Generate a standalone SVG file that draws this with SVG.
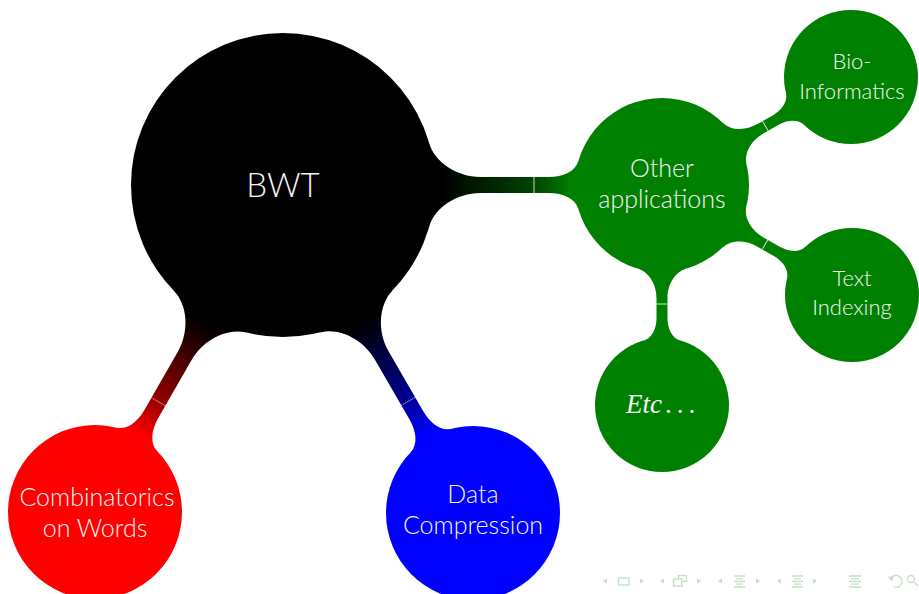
<svg xmlns="http://www.w3.org/2000/svg" width="919" height="594" viewBox="0 0 919 594">
<defs>
<style>
.lbl{font-family:Lato,"Open Sans","DejaVu Sans",sans-serif;font-weight:300;fill:#f6f6f6;text-anchor:middle}
.l0{font-size:33px}
.l1{font-size:25px}
.l2{font-size:22px}
.div{stroke:#ffffff;stroke-width:0.8;fill:none}
.dot{stroke-dasharray:1.2 1}
.nav{fill:#c2e2c2}
.navs{fill:none;stroke:#c2e2c2;stroke-width:1.3}
.g{fill:#008000}
</style>
<linearGradient id="gOther" gradientUnits="userSpaceOnUse" x1="158" y1="0" x2="288" y2="0">
<stop offset="0" stop-color="#000000"/><stop offset="0.715" stop-color="#004400"/><stop offset="1" stop-color="#008000"/>
</linearGradient>
<linearGradient id="gComb" gradientUnits="userSpaceOnUse" x1="158" y1="0" x2="288" y2="0">
<stop offset="0" stop-color="#000000"/><stop offset="0.715" stop-color="#990000"/><stop offset="1" stop-color="#ff0000"/>
</linearGradient>
<linearGradient id="gData" gradientUnits="userSpaceOnUse" x1="158" y1="0" x2="288" y2="0">
<stop offset="0" stop-color="#000000"/><stop offset="0.715" stop-color="#000099"/><stop offset="1" stop-color="#0000ff"/>
</linearGradient>
</defs>
<rect width="919" height="594" fill="#ffffff"/>
<g id="connectors">
<g transform="translate(283,185)">
<path fill="url(#gOther)" d="M146.11,-41.9 C151.56,-22.91 173.28,-8 197.6,-8 L265.9,-8 C279.82,-8 292.25,-13.11 295.37,-23.98 L295.37,23.98 C292.25,13.11 279.82,8 265.9,8 L197.6,8 C173.28,8 151.56,22.91 146.11,41.9 Z"/>
<path class="div" d="M251,-8 V8"/>
</g>
<g transform="translate(283,185) rotate(119.9)">
<path fill="url(#gComb)" d="M146.11,-41.9 C151.56,-22.91 173.28,-8 197.6,-8 L264.1,-8 C278.02,-8 290.45,-13.11 293.57,-23.98 L293.57,23.98 C290.45,13.11 278.02,8 264.1,8 L197.6,8 C173.28,8 151.56,22.91 146.11,41.9 Z"/>
<path class="div dot" d="M250,-8 V8"/>
</g>
<g transform="translate(283,185) rotate(59.92)">
<path fill="url(#gData)" d="M146.11,-41.9 C151.56,-22.91 173.28,-8 197.6,-8 L266,-8 C279.92,-8 292.35,-13.11 295.47,-23.98 L295.47,23.98 C292.35,13.11 279.92,8 266,8 L197.6,8 C173.28,8 151.56,22.91 146.11,41.9 Z"/>
<path class="div dot" d="M250,-8 V8"/>
</g>
<g transform="translate(662,185) rotate(-29.74)">
<path class="g" d="M83.63,-23.98 C86.75,-13.11 99.18,-5.5 113.1,-5.5 L130.6,-5.5 C141.32,-5.5 150.9,-10.1 153.3,-18.47 L153.3,18.47 C150.9,10.1 141.32,5.5 130.6,5.5 L113.1,5.5 C99.18,5.5 86.75,13.11 83.63,23.98 Z"/>
<path class="div" d="M119,-5.5 V5.5"/>
</g>
<g transform="translate(662,185) rotate(30.07)">
<path class="g" d="M83.63,-23.98 C86.75,-13.11 99.18,-5.5 113.1,-5.5 L132.4,-5.5 C143.12,-5.5 152.7,-10.1 155.1,-18.47 L155.1,18.47 C152.7,10.1 143.12,5.5 132.4,5.5 L113.1,5.5 C99.18,5.5 86.75,13.11 83.63,23.98 Z"/>
<path class="div" d="M119,-5.5 V5.5"/>
</g>
<g transform="translate(662,185) rotate(90)">
<path class="g" d="M83.63,-23.98 C86.75,-13.11 99.18,-5.5 113.1,-5.5 L132.9,-5.5 C143.62,-5.5 153.2,-10.1 155.6,-18.47 L155.6,18.47 C153.2,10.1 143.62,5.5 132.9,5.5 L113.1,5.5 C99.18,5.5 86.75,13.11 83.63,23.98 Z"/>
<path class="div" d="M119,-5.5 V5.5"/>
</g>
</g>
<g id="bwt">
<circle cx="283" cy="185" r="152" fill="#000000"/>
<text class="lbl l0" x="283" y="197">BWT</text>
</g>
<g id="other">
<circle cx="662" cy="185" r="87" fill="#008000"/>
<text class="lbl l1" x="662" y="177">Other</text>
<text class="lbl l1" x="662" y="208">applications</text>
</g>
<g id="bio">
<circle cx="851" cy="77" r="67" fill="#008000"/>
<text class="lbl l2" x="852" y="69">Bio-</text>
<text class="lbl l2" x="852" y="99">Informatics</text>
</g>
<g id="text-indexing">
<circle cx="852" cy="295" r="67" fill="#008000"/>
<text class="lbl l2" x="852" y="286">Text</text>
<text class="lbl l2" x="852" y="315">Indexing</text>
</g>
<g id="etc">
<circle cx="662" cy="405" r="67" fill="#008000"/>
<text x="626" y="413" font-family="'Liberation Serif',serif" font-style="italic" font-size="27" fill="#f6f6f6">Etc<tspan dx="3" font-style="normal" letter-spacing="5">...</tspan></text>
</g>
<g id="combinatorics">
<circle cx="95" cy="512" r="87" fill="#ff0000"/>
<text class="lbl l1" x="97" y="506">Combinatorics</text>
<text class="lbl l1" x="95" y="537">on Words</text>
</g>
<g id="compression">
<circle cx="473" cy="513" r="87" fill="#0000ff"/>
<text class="lbl l1" x="473" y="503">Data</text>
<text class="lbl l1" x="473" y="534">Compression</text>
</g>
<g id="nav">
<polygon class="nav" points="603,581 607,578.5 607,583.5"/>
<rect class="navs" x="618.5" y="578" width="10.5" height="7"/>
<polygon class="nav" points="640,578.5 644,581 640,583.5"/>
<polygon class="nav" points="660,581 664,578.5 664,583.5"/>
<rect class="navs" x="678.5" y="575.5" width="8" height="6"/>
<rect x="673.5" y="579" width="8.5" height="7" fill="#ffffff" stroke="#c2e2c2" stroke-width="1.3"/>
<polygon class="nav" points="697,578.5 701,581 697,583.5"/>
<polygon class="nav" points="718,581 722,578.5 722,583.5"/>
<path class="navs" d="M734,576 H745 M736,578.8 H743 M734,581.5 H745 M736,584.2 H743 M734,587 H745"/>
<polygon class="nav" points="756,578.5 760,581 756,583.5"/>
<polygon class="nav" points="777,581 781,578.5 781,583.5"/>
<path class="navs" d="M792,576 H803 M794,578.8 H801 M792,581.5 H803 M794,584.2 H801 M792,587 H803"/>
<polygon class="nav" points="813,578.5 817,581 813,583.5"/>
<path class="navs" d="M849,576 H861 M851,578.8 H859 M849,581.5 H861 M851,584.2 H859 M849,587 H861"/>
<path class="navs" d="M891,578 A6,6 0 1 1 894,587"/>
<polygon class="nav" points="888,577 894,576 892,581.5"/>
<circle class="navs" cx="911" cy="579" r="3.5"/>
<path class="navs" d="M913.5,581.5 L918,586"/>
</g>
</svg>
